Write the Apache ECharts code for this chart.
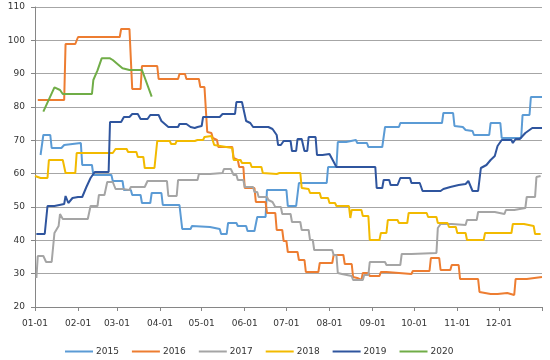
<!DOCTYPE html>
<html>
<head>
<meta charset="utf-8">
<script src="https://cdn.jsdelivr.net/npm/echarts@6/dist/echarts.min.js"></script>
<style>html,body{margin:0;padding:0;background:#fff}#c{width:550px;height:360px}</style>
</head>
<body>
<div id="c"></div>
<script>
// x = day of year (0 = 01-01), y = value
const monthStarts = [0, 31, 59, 90, 120, 151, 181, 212, 243, 273, 304, 334];
const monthLabels = ['01-01','02-01','03-01','04-01','05-01','06-01','07-01','08-01','09-01','10-01','11-01','12-01'];
const tickDays = [0, 31, 59, 90, 120, 151, 181, 212, 243, 273, 304, 334, 365];
const seriesNames = ['2015','2016','2017','2018','2019','2020'];

const s2015 = [[4,65.6],[6,71.6],[11,71.6],[12,67.7],[19,67.7],[21,68.6],[27,68.9],[28,69.2],[33,69.2],[34,62.6],[41,62.6],[42,59.6],[55,59.6],[56,57.8],[63,57.8],[64,55.1],[69,55.1],[70,53.6],[76,53.6],[77,51.2],[83,51.2],[84,54.2],[91,54.2],[92,50.6],[104,50.6],[106,43.4],[112,43.4],[113,44.3],[126,44.0],[127,43.4],[133,43.4],[134,41.9],[138,41.9],[139,45.2],[145,45.2],[146,44.3],[152,44.3],[153,42.8],[158,42.8],[160,47.0],[166,47.0],[167,55.1],[181,55.1],[182,50.3],[188,50.3],[190,57.2],[210,57.2],[211,62.0],[217,62.0],[218,69.5],[224,69.5],[225,70.1],[231,70.1],[232,69.2],[239,69.2],[240,68.0],[250,68.0],[252,74.0],[262,74.0],[263,75.2],[293,75.2],[294,78.2],[301,78.2],[302,74.3],[308,74.0],[310,73.1],[315,72.8],[316,71.6],[327,71.6],[328,75.2],[335,75.2],[336,70.7],[350,70.7],[351,77.6],[356,77.6],[357,83.0],[365,83.0]];

const s2016 = [[2,82.1],[21,82.1],[22,98.9],[29,98.9],[31,101.0],[61,101.0],[62,103.4],[68,103.4],[70,85.4],[76,85.4],[77,92.3],[88,92.3],[89,88.4],[103,88.4],[104,89.9],[108,89.9],[109,88.4],[118,88.4],[119,86.0],[122,86.0],[124,72.5],[127,72.2],[128,70.7],[131,70.1],[132,68.0],[142,68.0],[143,64.7],[146,64.1],[147,62.0],[150,62.0],[151,55.7],[158,55.7],[159,51.5],[166,51.5],[167,48.2],[173,48.2],[174,43.1],[178,43.1],[179,39.8],[181,39.8],[182,36.5],[189,36.5],[190,34.1],[194,34.1],[195,30.5],[204,30.5],[205,33.2],[214,33.2],[215,35.6],[222,35.6],[223,32.9],[228,32.9],[229,29.0],[232,28.7],[233,28.1],[235,28.1],[236,30.2],[240,30.2],[241,29.3],[248,29.3],[249,30.5],[253,30.5],[254,29.9],[271,29.9],[272,30.8],[284,30.8],[285,34.7],[291,34.7],[292,31.1],[299,31.1],[300,32.6],[305,32.6],[306,28.4],[319,28.4],[320,24.5],[328,23.9],[333,23.9],[334,24.2],[340,24.2],[341,23.6],[345,23.6],[346,28.4],[354,28.4],[355,28.7],[365,29.0]];

const s2017 = [[1,28.7],[2,35.3],[6,35.3],[8,33.5],[12,33.5],[14,42.2],[17,44.3],[18,47.9],[19,47.9],[20,46.4],[38,46.4],[40,50.3],[45,50.3],[46,53.6],[50,53.6],[52,57.5],[56,57.5],[58,55.4],[63,55.4],[64,55.1],[68,55.1],[69,56.0],[79,56.0],[81,57.8],[95,57.8],[96,53.3],[102,53.3],[103,58.1],[117,58.1],[118,59.9],[126,59.9],[127,60.2],[135,60.2],[136,61.4],[141,61.4],[143,59.6],[145,59.6],[146,58.1],[150,58.1],[151,56.0],[157,56.0],[158,54.5],[160,54.5],[161,53.0],[167,53.0],[168,52.1],[171,51.5],[173,50.0],[177,50.0],[178,47.9],[184,47.9],[185,45.5],[191,45.5],[192,43.1],[197,43.1],[198,40.1],[200,40.1],[201,37.1],[214,37.1],[215,35.6],[217,35.6],[218,30.2],[221,29.9],[222,29.3],[228,29.3],[229,28.1],[236,28.1],[237,29.6],[240,29.6],[241,33.5],[252,33.5],[253,32.6],[263,32.6],[264,35.9],[271,35.9],[272,36.5],[289,36.2],[290,43.7],[292,44.9],[300,44.9],[301,44.6],[310,44.6],[311,46.1],[318,46.1],[319,48.5],[331,48.5],[332,47.9],[338,47.9],[339,49.1],[345,49.1],[346,49.7],[353,49.7],[354,53.0],[360,53.0],[361,59.0],[364,59.3]];

const s2018 = [[0,59.3],[4,58.7],[9,58.7],[10,64.1],[20,64.1],[21,63.8],[22,60.2],[29,60.2],[30,66.2],[56,66.2],[58,67.4],[66,67.4],[67,66.5],[73,66.5],[74,65.0],[78,65.0],[79,61.7],[86,61.7],[88,69.8],[97,69.8],[98,68.9],[101,68.9],[102,69.8],[115,69.8],[117,70.1],[121,70.1],[122,71.0],[127,71.3],[129,68.6],[130,68.6],[142,67.7],[143,64.1],[148,64.1],[149,63.2],[155,63.2],[156,62.0],[163,62.0],[164,60.2],[174,59.9],[176,60.2],[191,60.2],[192,55.7],[197,55.4],[198,54.2],[205,54.2],[206,52.7],[211,52.7],[212,51.2],[216,51.2],[217,50.3],[226,50.3],[227,46.7],[228,49.1],[235,49.1],[236,47.3],[240,47.3],[241,40.1],[248,40.1],[249,42.2],[253,42.2],[254,46.1],[261,46.1],[262,45.2],[268,45.2],[269,48.2],[282,48.2],[283,47.0],[289,47.0],[290,45.2],[297,45.2],[298,44.0],[303,44.0],[304,42.2],[310,42.2],[311,40.1],[323,40.1],[324,42.2],[343,42.2],[344,44.9],[352,44.9],[353,44.3],[359,44.3],[360,41.9],[364,41.9]];

const s2019 = [[1,41.9],[7,41.9],[9,50.3],[14,50.3],[15,50.9],[21,50.9],[22,53.3],[23,53.3],[24,51.2],[25,51.2],[27,52.7],[31,53.0],[34,53.0],[37,56.0],[40,58.7],[43,60.5],[53,60.5],[54,75.5],[62,75.5],[64,77.0],[68,77.0],[70,77.9],[74,77.9],[76,76.4],[81,76.4],[83,77.6],[89,77.6],[91,75.8],[96,74.0],[103,74.0],[104,74.9],[109,74.9],[112,74.0],[115,73.7],[117,74.0],[120,74.3],[121,77.0],[133,77.0],[135,77.9],[144,77.9],[145,81.5],[149,81.5],[152,75.8],[155,75.2],[157,74.0],[168,74.0],[171,73.4],[174,71.6],[175,68.6],[177,68.6],[179,69.8],[184,69.8],[185,66.8],[188,66.8],[189,70.4],[192,70.4],[194,66.8],[196,66.8],[197,71.0],[202,71.0],[203,65.6],[207,65.6],[208,66.2],[212,65.9],[217,62.0],[245,62.0],[246,55.7],[250,55.7],[251,58.1],[255,58.1],[256,56.6],[261,56.6],[263,58.7],[270,58.7],[271,57.2],[277,57.2],[279,54.8],[292,54.8],[294,55.4],[299,56.0],[305,56.6],[310,56.9],[312,57.8],[313,57.8],[315,54.8],[319,54.8],[321,61.7],[325,62.6],[328,64.1],[331,65.3],[333,68.3],[336,70.1],[343,70.1],[344,69.2],[346,70.4],[349,70.4],[353,72.2],[358,73.7],[365,73.7]];

const s2020 = [[6,78.6],[14,85.9],[15,85.5],[18,85.1],[20,83.9],[41,83.9],[42,88.1],[45,91.0],[48,94.6],[54,94.6],[56,94.1],[60,92.7],[63,91.6],[68,91.1],[77,91.1],[78,90.5],[84,83.1]];

const colors = ['#5B9BD5','#ED7D31','#A5A5A5','#F2BA00','#2F559E','#70AD47'];
const allData = [s2015, s2016, s2017, s2018, s2019, s2020];

const chart = echarts.init(document.getElementById('c'), null, {renderer: 'canvas'});
const font = 'DejaVu Sans';
chart.setOption({
  animation: false,
  color: colors,
  grid: {left: 35, right: 8, top: 7, bottom: 53, containLabel: false},
  legend: {
    data: seriesNames.map(n => ({name: n, icon: 'rect'})),
    left: 60, top: 342,
    itemWidth: 28, itemHeight: 2, itemGap: 13,
    textStyle: {fontFamily: font, fontSize: 9, color: '#333333', padding: [0, 0, 0, -2]}
  },
  xAxis: {
    type: 'value', min: 0, max: 365,
    splitLine: {show: false},
    axisLine: {lineStyle: {color: '#868686'}},
    axisTick: {show: true, customValues: tickDays, length: 4, lineStyle: {color: '#868686'}},
    axisLabel: {
      customValues: monthStarts,
      formatter: v => monthLabels[monthStarts.indexOf(v)],
      fontFamily: font, fontSize: 9, color: '#333333', margin: 12
    }
  },
  yAxis: {
    type: 'value', min: 20, max: 110, interval: 10,
    splitLine: {lineStyle: {color: '#A6A6A6', width: 1}},
    axisLine: {show: true, lineStyle: {color: '#868686'}},
    axisTick: {show: true, length: 4, lineStyle: {color: '#868686'}},
    axisLabel: {fontFamily: font, fontSize: 9, color: '#333333', margin: 10}
  },
  series: seriesNames.map((n, i) => ({
    name: n, type: 'line', data: allData[i],
    symbol: 'none', lineStyle: {width: 2, color: colors[i]},
    itemStyle: {color: colors[i]}
  }))
});
</script>
</body>
</html>
